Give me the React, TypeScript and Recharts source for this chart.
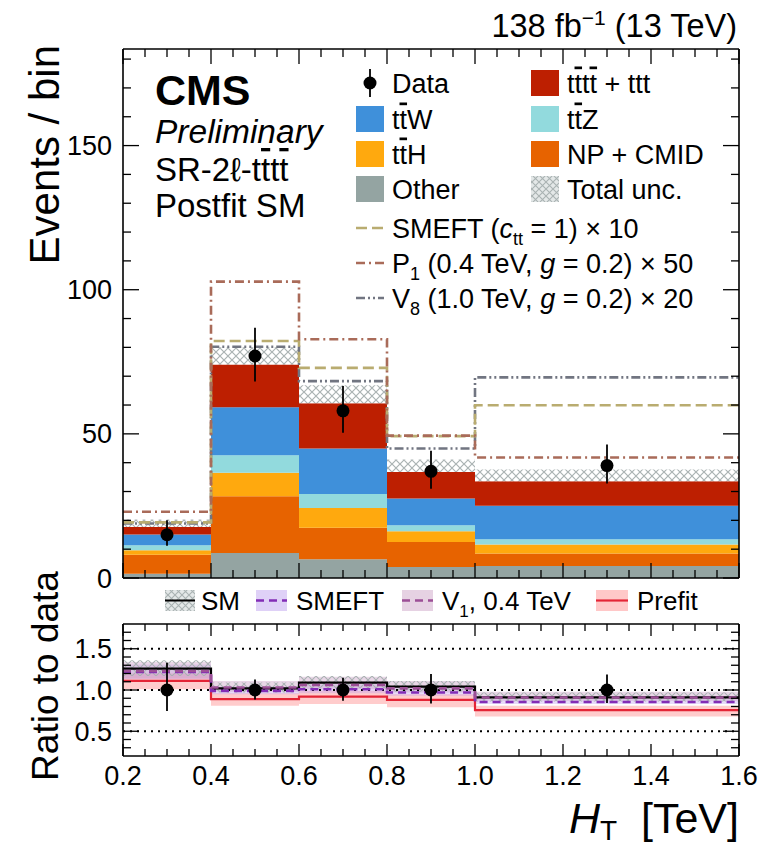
import React from "react";
import {
  ComposedChart,
  Area,
  Line,
  Scatter,
  ErrorBar,
  XAxis,
  YAxis,
  ReferenceLine,
} from "recharts";

const FONT = '"Liberation Sans", Arial, Helvetica, sans-serif';

// ---------- binning ----------
const binEdges = [0.2, 0.4, 0.6, 0.8, 1.0, 1.6];
const binCenters = [0.3, 0.5, 0.7, 0.9, 1.3];

// ---------- upper panel (events / bin) ----------
const otherBkg = [1.5, 8.7, 6.5, 3.8, 4.2];
const npCmid = [6.6, 19.7, 10.9, 8.7, 4.3];
const ttH = [1.5, 8.1, 6.9, 3.7, 3.1];
const ttZ = [1.8, 6.1, 4.8, 2.1, 1.8];
const ttW = [3.7, 16.6, 15.8, 9.3, 11.7];
const tttt = [2.6, 14.9, 15.7, 9.2, 8.5];
const totalUncUp = [2.6, 5.9, 6.3, 4.3, 4.0];
const smeftX10 = [19.3, 82.2, 72.9, 49.2, 59.9];
const p1X50 = [23.0, 102.8, 82.8, 49.4, 41.8];
const v8X20 = [18.9, 80.2, 68.3, 44.9, 69.6];
const dataEvents = [15, 77, 58, 37, 39];
const dataErrLow = [3.8, 8.8, 7.6, 6.0, 6.2];
const dataErrHigh = [5.0, 9.8, 8.6, 7.1, 7.3];

// ---------- lower panel (ratio to data) ----------
const smRatio = [1.26, 1.02, 1.09, 1.04, 0.91];
const smRatioLo = [1.17, 0.97, 1.02, 0.98, 0.86];
const smRatioHi = [1.36, 1.09, 1.17, 1.11, 0.97];
const smeftRatio = [1.22, 0.99, 1.01, 0.97, 0.855];
const smeftRatioLo = [1.13, 0.95, 0.96, 0.93, 0.83];
const smeftRatioHi = [1.31, 1.04, 1.07, 1.03, 0.89];
const v1Ratio = [1.23, 1.03, 1.06, 1.02, 0.91];
const v1RatioLo = [1.14, 0.98, 1.01, 0.97, 0.87];
const v1RatioHi = [1.34, 1.11, 1.16, 1.11, 0.98];
const prefitRatio = [1.11, 0.89, 0.92, 0.88, 0.755];
const prefitRatioLo = [1.01, 0.81, 0.83, 0.79, 0.68];
const prefitRatioHi = [1.2, 0.96, 0.99, 0.95, 0.81];
const dataRatio = [1, 1, 1, 1, 1];
const dataRatioErrLow = [0.255, 0.114, 0.131, 0.164, 0.159];
const dataRatioErrHigh = [0.33, 0.127, 0.149, 0.193, 0.187];

// ---------- ticks ----------
const xTicks = [0.2, 0.25, 0.3, 0.35, 0.4, 0.45, 0.5, 0.55, 0.6, 0.65, 0.7, 0.75, 0.8, 0.85, 0.9, 0.95, 1.0, 1.05, 1.1, 1.15, 1.2, 1.25, 1.3, 1.35, 1.4, 1.45, 1.5, 1.55, 1.6];
const xMajor = [0.2, 0.4, 0.6, 0.8, 1.0, 1.2, 1.4, 1.6];
const xMajorLabels = ["0.2", "0.4", "0.6", "0.8", "1.0", "1.2", "1.4", "1.6"];
const yTicks = [0, 10, 20, 30, 40, 50, 60, 70, 80, 90, 100, 110, 120, 130, 140, 150, 160, 170, 180];
const yMajor = [0, 50, 100, 150];
const yMajorLabels = ["0", "50", "100", "150"];
const rTicks = [0.3, 0.4, 0.5, 0.6, 0.7, 0.8, 0.9, 1.0, 1.1, 1.2, 1.3, 1.4, 1.5, 1.6, 1.7];
const rMajor = [0.5, 1.0, 1.5];
const rMajorLabels = ["0.5", "1.0", "1.5"];
const rGuides = [0.5, 1.0, 1.5];

// ---------- colours ----------
const C = {
  tttt: "#bd1f01",
  ttW: "#3f90da",
  ttZ: "#92dadd",
  ttH: "#ffa90e",
  np: "#e76300",
  other: "#94a4a2",
  smeft: "#b9ac70",
  p1: "#a96b59",
  v8: "#717581",
  smeftR: "#832db6",
  v1R: "#9c4f96",
  prefit: "#e42536",
};

const stepRows = (cols: Record<string, number[]>) =>
  binEdges.map((x, i) => {
    const j = Math.min(i, binCenters.length - 1);
    const r: any = { x };
    Object.keys(cols).forEach((k) => (r[k] = cols[k][j]));
    return r;
  });

const rangeRows = (rows: any[], name: string, lo: number[], hi: number[]) =>
  rows.forEach((r, i) => {
    const j = Math.min(i, binCenters.length - 1);
    r[name] = [lo[j], hi[j]];
  });

const upperRows = stepRows({
  other: otherBkg,
  np: npCmid,
  ttH,
  ttZ,
  ttW,
  tttt,
  unc: totalUncUp,
  smeft: smeftX10,
  p1: p1X50,
  v8: v8X20,
});

const lowerRows = stepRows({
  sm: smRatio,
  smeft: smeftRatio,
  v1: v1Ratio,
  prefit: prefitRatio,
});
rangeRows(lowerRows, "smBand", smRatioLo, smRatioHi);
rangeRows(lowerRows, "smeftBand", smeftRatioLo, smeftRatioHi);
rangeRows(lowerRows, "v1Band", v1RatioLo, v1RatioHi);
rangeRows(lowerRows, "prefitBand", prefitRatioLo, prefitRatioHi);

const dataPoints = binCenters.map((x, i) => ({
  x,
  y: dataEvents[i],
  err: [dataErrLow[i], dataErrHigh[i]],
}));
const ratioPoints = binCenters.map((x, i) => ({
  x,
  y: dataRatio[i],
  err: [dataRatioErrLow[i], dataRatioErrHigh[i]],
}));

const isIn = (arr: number[], v: number) => arr.findIndex((m) => Math.abs(m - v) < 1e-6);

const makeTick =
  (side: "bottom" | "top" | "left" | "right", majors: number[], labels: string[] | null, majLen: number, minLen: number) =>
  (props: any) => {
    const { x, y, payload } = props;
    const v = payload.value;
    const idx = isIn(majors, v);
    const len = idx >= 0 ? majLen : minLen;
    let line;
    let label = null;
    if (side === "bottom") {
      line = <line x1={x} y1={y} x2={x} y2={y - len} stroke="#000" strokeWidth={1.3} />;
      if (labels && idx >= 0)
        label = (
          <text x={x} y={y + 29} textAnchor="middle" fontSize={27} fontFamily={FONT} fill="#000">
            {labels[idx]}
          </text>
        );
    } else if (side === "top") {
      line = <line x1={x} y1={y} x2={x} y2={y + len} stroke="#000" strokeWidth={1.3} />;
    } else if (side === "left") {
      line = <line x1={x} y1={y} x2={x + len} y2={y} stroke="#000" strokeWidth={1.3} />;
      if (labels && idx >= 0)
        label = (
          <text x={x - 11} y={y + 9.5} textAnchor="end" fontSize={27} fontFamily={FONT} fill="#000">
            {labels[idx]}
          </text>
        );
    } else {
      line = <line x1={x} y1={y} x2={x - len} y2={y} stroke="#000" strokeWidth={1.3} />;
    }
    return (
      <g>
        {line}
        {label}
      </g>
    );
  };

const axisLine = { stroke: "#000", strokeWidth: 1.6 };

const DataDot = (props: any) => <circle cx={props.cx} cy={props.cy} r={6.5} fill="#000" />;

const HatchDefs = ({ id, color }: { id: string; color: string }) => (
  <pattern id={id} patternUnits="userSpaceOnUse" width={8} height={8}>
    <rect x={0} y={0} width={8} height={8} fill="#fff" />
    <path d="M0,0 L8,8 M8,0 L0,8" stroke={color} strokeWidth={1.2} />
  </pattern>
);

function UpperPanel() {
  return (
    <ComposedChart
      width={770}
      height={600}
      data={upperRows}
      margin={{ top: 48, right: 30, bottom: 21, left: 0 }}
    >
      <defs>
        <HatchDefs id="hatchUp" color="#aab3b3" />
      </defs>
      <XAxis
        xAxisId="b"
        type="number"
        dataKey="x"
        domain={[0.2, 1.6]}
        ticks={xTicks}
        interval={0}
        height={1}
        tickSize={0}
        tickMargin={0}
        tickLine={false}
        axisLine={axisLine}
        tick={makeTick("bottom", xMajor, null, 15, 8)}
        allowDataOverflow
      />
      <XAxis
        xAxisId="t"
        orientation="top"
        type="number"
        dataKey="x"
        domain={[0.2, 1.6]}
        ticks={xTicks}
        interval={0}
        height={1}
        tickSize={0}
        tickMargin={0}
        tickLine={false}
        axisLine={axisLine}
        tick={makeTick("top", xMajor, null, 15, 8)}
        allowDataOverflow
      />
      <YAxis
        yAxisId="l"
        type="number"
        domain={[0, 183.5]}
        ticks={yTicks}
        interval={0}
        width={123}
        tickSize={0}
        tickMargin={0}
        tickLine={false}
        axisLine={axisLine}
        tick={makeTick("left", yMajor, yMajorLabels, 16, 8)}
        allowDataOverflow
      />
      <YAxis
        yAxisId="r"
        orientation="right"
        type="number"
        domain={[0, 183.5]}
        ticks={yTicks}
        interval={0}
        width={1}
        tickSize={0}
        tickMargin={0}
        tickLine={false}
        axisLine={axisLine}
        tick={makeTick("right", yMajor, null, 16, 8)}
        allowDataOverflow
      />
      {[
        ["other", C.other],
        ["np", C.np],
        ["ttH", C.ttH],
        ["ttZ", C.ttZ],
        ["ttW", C.ttW],
        ["tttt", C.tttt],
      ].map(([k, col]) => (
        <Area
          key={k}
          xAxisId="b"
          yAxisId="l"
          type="stepAfter"
          dataKey={k}
          stackId="s"
          fill={col}
          fillOpacity={1}
          stroke="none"
          isAnimationActive={false}
        />
      ))}
      <Area
        xAxisId="b"
        yAxisId="l"
        type="stepAfter"
        dataKey="unc"
        stackId="s"
        fill="url(#hatchUp)"
        fillOpacity={1}
        stroke="none"
        isAnimationActive={false}
      />
      <Line xAxisId="b" yAxisId="l" type="stepAfter" dataKey="v8" stroke={C.v8} strokeWidth={2.6} strokeDasharray="9 3 2 3 2 3" dot={false} isAnimationActive={false} />
      <Line xAxisId="b" yAxisId="l" type="stepAfter" dataKey="smeft" stroke={C.smeft} strokeWidth={2.6} strokeDasharray="11 5" dot={false} isAnimationActive={false} />
      <Line xAxisId="b" yAxisId="l" type="stepAfter" dataKey="p1" stroke={C.p1} strokeWidth={2.6} strokeDasharray="9 4 2 4" dot={false} isAnimationActive={false} />
      <Scatter
        xAxisId="b"
        yAxisId="l"
        data={dataPoints}
        dataKey="y"
        shape={DataDot}
        isAnimationActive={false}
      >
        <ErrorBar dataKey="err" direction="y" width={0} stroke="#000" strokeWidth={1.8} isAnimationActive={false} />
      </Scatter>
    </ComposedChart>
  );
}

function LowerPanel() {
  return (
    <ComposedChart
      width={770}
      height={247}
      data={lowerRows}
      margin={{ top: 23, right: 30, bottom: 90, left: 0 }}
    >
      <defs>
        <pattern id="hatchLow" patternUnits="userSpaceOnUse" width={8} height={8}>
          <path d="M0,0 L8,8 M8,0 L0,8" stroke="#a9b2b2" strokeWidth={1.1} />
        </pattern>
      </defs>
      <XAxis
        xAxisId="b"
        type="number"
        dataKey="x"
        domain={[0.2, 1.6]}
        ticks={xTicks}
        interval={0}
        height={1}
        tickSize={0}
        tickMargin={0}
        tickLine={false}
        axisLine={axisLine}
        tick={makeTick("bottom", xMajor, xMajorLabels, 12, 7)}
        allowDataOverflow
      />
      <XAxis
        xAxisId="t"
        orientation="top"
        type="number"
        dataKey="x"
        domain={[0.2, 1.6]}
        ticks={xTicks}
        interval={0}
        height={1}
        tickSize={0}
        tickMargin={0}
        tickLine={false}
        axisLine={axisLine}
        tick={makeTick("top", xMajor, null, 12, 7)}
        allowDataOverflow
      />
      <YAxis
        yAxisId="l"
        type="number"
        domain={[0.2, 1.8]}
        ticks={rTicks}
        interval={0}
        width={123}
        tickSize={0}
        tickMargin={0}
        tickLine={false}
        axisLine={axisLine}
        tick={makeTick("left", rMajor, rMajorLabels, 16, 8)}
        allowDataOverflow
      />
      <YAxis
        yAxisId="r"
        orientation="right"
        type="number"
        domain={[0.2, 1.8]}
        ticks={rTicks}
        interval={0}
        width={1}
        tickSize={0}
        tickMargin={0}
        tickLine={false}
        axisLine={axisLine}
        tick={makeTick("right", rMajor, null, 16, 8)}
        allowDataOverflow
      />
      {rGuides.map((g) => (
        <ReferenceLine key={g} xAxisId="b" yAxisId="l" y={g} stroke="#000" strokeWidth={2} strokeDasharray="2 5" />
      ))}
      <Area xAxisId="b" yAxisId="l" type="stepAfter" dataKey="prefitBand" fill="#ff9a9a" fillOpacity={0.5} stroke="none" isAnimationActive={false} />
      <Area xAxisId="b" yAxisId="l" type="stepAfter" dataKey="smeftBand" fill="#b999ee" fillOpacity={0.35} stroke="none" isAnimationActive={false} />
      <Area xAxisId="b" yAxisId="l" type="stepAfter" dataKey="v1Band" fill="#c79cc2" fillOpacity={0.4} stroke="none" isAnimationActive={false} />
      <Area xAxisId="b" yAxisId="l" type="stepAfter" dataKey="smBand" fill="url(#hatchLow)" fillOpacity={1} stroke="none" isAnimationActive={false} />
      <Line xAxisId="b" yAxisId="l" type="stepAfter" dataKey="prefit" stroke={C.prefit} strokeWidth={2.2} dot={false} isAnimationActive={false} />
      <Line xAxisId="b" yAxisId="l" type="stepAfter" dataKey="sm" stroke="#000" strokeWidth={2.2} dot={false} isAnimationActive={false} />
      <Line xAxisId="b" yAxisId="l" type="stepAfter" dataKey="smeft" stroke={C.smeftR} strokeWidth={2.6} strokeDasharray="8 5" dot={false} isAnimationActive={false} />
      <Line xAxisId="b" yAxisId="l" type="stepAfter" dataKey="v1" stroke={C.v1R} strokeWidth={2.6} strokeDasharray="8 5" dot={false} isAnimationActive={false} />
      <Scatter xAxisId="b" yAxisId="l" data={ratioPoints} dataKey="y" shape={DataDot} isAnimationActive={false}>
        <ErrorBar dataKey="err" direction="y" width={0} stroke="#000" strokeWidth={1.8} isAnimationActive={false} />
      </Scatter>
    </ComposedChart>
  );
}

const legendTop = [
  { kind: "data", label: "Data", col: 0, row: 0 },
  { kind: "box", label: "ttW", color: C.ttW, col: 0, row: 1 },
  { kind: "box", label: "ttH", color: C.ttH, col: 0, row: 2 },
  { kind: "box", label: "Other", color: C.other, col: 0, row: 3 },
  { kind: "box", label: "tttt", color: C.tttt, col: 1, row: 0 },
  { kind: "box", label: "ttZ", color: C.ttZ, col: 1, row: 1 },
  { kind: "box", label: "NP + CMID", color: C.np, col: 1, row: 2 },
  { kind: "hatch", label: "Total unc.", col: 1, row: 3 },
];

const Ov = ({ children }: any) => <tspan style={{ textDecoration: "overline" }}>{children}</tspan>;

function labelContent(label: string) {
  if (label === "ttW") return (<>t<Ov>t</Ov>W</>);
  if (label === "ttH") return (<>t<Ov>t</Ov>H</>);
  if (label === "ttZ") return (<>t<Ov>t</Ov>Z</>);
  if (label === "tttt") return (<>t<Ov>t</Ov>t<Ov>t</Ov> + ttt</>);
  return label;
}

function Overlay() {
  const rowY = [83, 119, 154, 189];
  const colX = [356, 531];
  const txt = { fontFamily: FONT, fill: "#000" } as const;
  return (
    <svg width={770} height={847} style={{ position: "absolute", left: 0, top: 0, pointerEvents: "none" }}>
      <defs>
        <pattern id="hatchLeg2" patternUnits="userSpaceOnUse" width={7} height={7}>
          <rect width={7} height={7} fill="#e4e8e8" />
          <path d="M0,0 L7,7 M7,0 L0,7" stroke="#aab3b3" strokeWidth={1.1} />
        </pattern>
      </defs>
      {/* header */}
      <text x={737} y={37} textAnchor="end" fontSize={32.5} {...txt}>
        138 fb<tspan dy={-12} fontSize={21}>−1</tspan>
        <tspan dy={12}> (13 TeV)</tspan>
      </text>
      {/* axis titles */}
      <text transform="translate(59,45) rotate(-90)" textAnchor="end" fontSize={42} {...txt}>
        Events / bin
      </text>
      <text transform="translate(58,676) rotate(-90)" textAnchor="middle" fontSize={37} {...txt}>
        Ratio to data
      </text>
      <text x={739} y={833} textAnchor="end" fontSize={43} {...txt}>
        <tspan fontStyle="italic">H</tspan>
        <tspan dy={7} fontSize={28}>T</tspan>
        <tspan dy={-7}>{"\u00a0\u00a0[TeV]"}</tspan>
      </text>
      {/* CMS labels */}
      <text x={155} y={105} fontSize={43} fontWeight="bold" {...txt}>CMS</text>
      <text x={155} y={143} fontSize={33.5} fontStyle="italic" {...txt}>Preliminary</text>
      <text x={155} y={181} fontSize={33} {...txt}>
        SR-2ℓ-t<Ov>t</Ov>t<Ov>t</Ov>
      </text>
      <text x={155} y={217} fontSize={33} {...txt}>Postfit SM</text>
      {/* legend upper */}
      {legendTop.map((e, i) => {
        const x0 = colX[e.col];
        const cy = rowY[e.row];
        let mark;
        if (e.kind === "data") {
          mark = (
            <g>
              <line x1={x0 + 14} y1={cy - 14} x2={x0 + 14} y2={cy + 14} stroke="#000" strokeWidth={1.8} />
              <circle cx={x0 + 14} cy={cy} r={6.5} fill="#000" />
            </g>
          );
        } else if (e.kind === "box") {
          mark = <rect x={x0} y={cy - 13} width={28} height={26} fill={e.color} />;
        } else {
          mark = <rect x={x0} y={cy - 13} width={28} height={26} fill="url(#hatchLeg2)" />;
        }
        return (
          <g key={i}>
            {mark}
            <text x={x0 + 36} y={cy + 9.5} fontSize={27} {...txt}>
              {labelContent(e.label)}
            </text>
          </g>
        );
      })}
      {/* lines legend */}
      <line x1={356} y1={228} x2={384} y2={228} stroke={C.smeft} strokeWidth={2.6} strokeDasharray="11 5" />
      <text x={392} y={237.5} fontSize={27} {...txt}>
        SMEFT (<tspan fontStyle="italic">c</tspan>
        <tspan dy={7} fontSize={18}>tt</tspan>
        <tspan dy={-7}> = 1) × 10</tspan>
      </text>
      <line x1={356} y1={263} x2={384} y2={263} stroke={C.p1} strokeWidth={2.6} strokeDasharray="9 4 2 4" />
      <text x={392} y={272.5} fontSize={27} {...txt}>
        P<tspan dy={7} fontSize={18}>1</tspan>
        <tspan dy={-7}> (0.4 TeV, </tspan>
        <tspan fontStyle="italic">g</tspan>
        <tspan> = 0.2) × 50</tspan>
      </text>
      <line x1={356} y1={298} x2={384} y2={298} stroke={C.v8} strokeWidth={2.6} strokeDasharray="9 3 2 3 2 3" />
      <text x={392} y={307.5} fontSize={27} {...txt}>
        V<tspan dy={7} fontSize={18}>8</tspan>
        <tspan dy={-7}> (1.0 TeV, </tspan>
        <tspan fontStyle="italic">g</tspan>
        <tspan> = 0.2) × 20</tspan>
      </text>
      {/* ratio legend */}
      <rect x={165} y={590} width={30} height={21} fill="url(#hatchLeg2)" />
      <line x1={165} y1={600.5} x2={195} y2={600.5} stroke="#000" strokeWidth={2} />
      <text x={201} y={609.5} fontSize={26} {...txt}>SM</text>
      <rect x={256} y={590} width={31} height={21} fill="#b999ee" fillOpacity={0.45} />
      <line x1={256} y1={600.5} x2={287} y2={600.5} stroke={C.smeftR} strokeWidth={2.6} strokeDasharray="8 5" />
      <text x={296} y={609.5} fontSize={26} {...txt}>SMEFT</text>
      <rect x={402} y={590} width={31} height={21} fill="#c79cc2" fillOpacity={0.45} />
      <line x1={402} y1={600.5} x2={433} y2={600.5} stroke={C.v1R} strokeWidth={2.6} strokeDasharray="8 5" />
      <text x={442} y={609.5} fontSize={26} {...txt}>
        V<tspan dy={7} fontSize={17}>1</tspan>
        <tspan dy={-7}>, 0.4 TeV</tspan>
      </text>
      <rect x={596} y={590} width={32} height={21} fill="#ff9a9a" fillOpacity={0.55} />
      <line x1={596} y1={600.5} x2={628} y2={600.5} stroke={C.prefit} strokeWidth={2.2} />
      <text x={637} y={609.5} fontSize={26} {...txt}>Prefit</text>
    </svg>
  );
}

export default function App() {
  return (
    <div style={{ position: "absolute", left: 0, top: 0, width: 770, height: 847, background: "#fff", fontFamily: FONT }}>
      <div style={{ position: "absolute", left: 0, top: 0 }}>
        <UpperPanel />
      </div>
      <div style={{ position: "absolute", left: 0, top: 600 }}>
        <LowerPanel />
      </div>
      <Overlay />
    </div>
  );
}
